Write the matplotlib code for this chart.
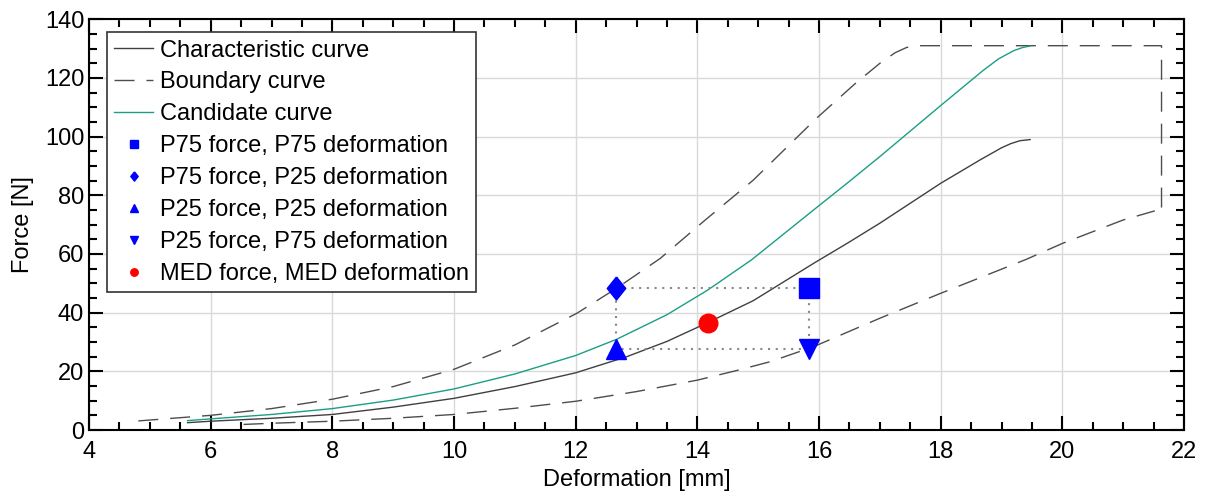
import matplotlib
matplotlib.use('Agg')
from matplotlib import pyplot as plt
from matplotlib.ticker import MultipleLocator

plt.rcParams['font.family'] = ['Liberation Sans', 'DejaVu Sans']

# characteristic curve
char_x = [5.62, 6.0, 7.0, 8.0, 9.0, 10.0, 11.0, 12.0, 12.84, 13.5, 14.17,
          14.92, 15.91, 16.46, 17.0, 18.0, 18.65, 19.0, 19.15, 19.3, 19.47]
char_y = [2.5, 3.0, 4.0, 5.3, 7.8, 10.8, 14.8, 19.5, 25.0, 30.2, 36.6,
          44.1, 56.8, 63.6, 70.5, 84.1, 92.1, 96.2, 97.6, 98.6, 99.0]

# candidate curve
cand_x = [5.62, 6.0, 7.0, 8.0, 9.0, 10.0, 11.0, 12.0, 12.67, 13.5, 14.17,
          14.89, 15.91, 16.46, 17.0, 18.0, 18.35, 18.7, 18.95, 19.2, 19.35, 19.47]
cand_y = [3.2, 3.8, 5.3, 7.3, 10.2, 14.0, 19.1, 25.4, 30.9, 39.3, 47.7,
          58.0, 75.0, 84.1, 93.2, 110.6, 116.6, 122.6, 126.5, 129.3, 130.4, 130.9]

# boundary curve (upper part incl. plateau and right edge, lower part)
upper_x = [4.81, 6.0, 7.0, 8.0, 9.0, 10.0, 11.0, 12.02, 12.67, 13.39, 14.13,
           14.92, 15.96, 16.59, 17.0, 17.25, 17.44, 17.6, 21.63, 21.63]
upper_y = [3.1, 5.0, 7.3, 10.5, 14.8, 20.7, 29.0, 39.8, 48.3, 58.5, 71.6,
           85.2, 106.3, 118.0, 125.0, 128.6, 130.4, 131.0, 131.0, 75.5]
lower_x = [6.54, 7.0, 8.0, 9.0, 10.0, 11.0, 12.0, 13.0, 14.0, 14.65, 15.2,
           15.91, 17.0, 18.0, 19.41, 20.0, 21.0, 21.52]
lower_y = [1.9, 2.3, 3.0, 4.0, 5.3, 7.4, 9.8, 13.1, 17.0, 20.3, 23.3,
           28.4, 38.1, 46.6, 58.2, 63.6, 71.6, 74.7]

# percentile points
p25_def, p75_def, med_def = 12.67, 15.84, 14.17
p25_force, p75_force, med_force = 27.5, 48.4, 36.6

fig = plt.figure(figsize=(12.05, 5.01), dpi=100)
ax = fig.add_axes([0.0739, 0.1417, 0.9087, 0.8198])

ax.grid(True, which='major', color='#d9d9d9', linewidth=1.0)
ax.set_axisbelow(True)

ax.plot(char_x, char_y, color='#404040', linewidth=1.0, label='Characteristic curve')
ax.plot(upper_x, upper_y, color='#4d4d4d', linewidth=1.0,
        linestyle=(0, (14.4, 8.6)), label='Boundary curve')
ax.plot(lower_x, lower_y, color='#4d4d4d', linewidth=1.0, linestyle=(0, (14.4, 8.6)))
ax.plot(cand_x, cand_y, color='#1b9e85', linewidth=1.0, label='Candidate curve')

# dotted rectangle between percentile points
ax.plot([p25_def, p75_def, p75_def, p25_def, p25_def],
        [p75_force, p75_force, p25_force, p25_force, p75_force],
        color='#888888', linewidth=1.5, linestyle=(0, (1, 2.7)), zorder=2)

diamond = [(0, 1), (0.8, 0), (0, -1), (-0.8, 0), (0, 1)]
ax.plot(p75_def, p75_force, 's', color='#0000ff', markersize=14.4, linestyle='none',
        label='P75 force, P75 deformation')
ax.plot(p25_def, p75_force, marker=diamond, color='#0000ff', markersize=16.6,
        linestyle='none', label='P75 force, P25 deformation')
ax.plot(p25_def, p25_force, '^', color='#0000ff', markersize=14.4, linestyle='none',
        label='P25 force, P25 deformation')
ax.plot(p75_def, p25_force, 'v', color='#0000ff', markersize=14.4, linestyle='none',
        label='P25 force, P75 deformation')
ax.plot(med_def, med_force, 'o', color='#ff0000', markersize=13.4, linestyle='none',
        label='MED force, MED deformation')

ax.set_xlim(4, 22)
ax.set_ylim(0, 140)
ax.xaxis.set_major_locator(MultipleLocator(2))
ax.xaxis.set_minor_locator(MultipleLocator(0.5))
ax.yaxis.set_major_locator(MultipleLocator(20))
ax.yaxis.set_minor_locator(MultipleLocator(5))
ax.tick_params(which='both', direction='in', top=True, right=True, width=1.5,
               labelsize=17, colors='black')
ax.tick_params(which='major', length=10)
ax.tick_params(which='minor', length=5.5)
ax.tick_params(axis='x', pad=8)
for s in ax.spines.values():
    s.set_linewidth(1.5)

ax.set_xlabel('Deformation [mm]', fontsize=17, labelpad=4)
ax.set_ylabel('Force [N]', fontsize=17, labelpad=8)

leg = ax.legend(loc='upper left', bbox_to_anchor=(0.0165, 0.968), fontsize=17,
                markerscale=0.4, handlelength=1.65, handletextpad=0.3,
                labelspacing=0.42, borderpad=0.3, borderaxespad=0, fancybox=False,
                framealpha=1, edgecolor='#333333')
leg.get_frame().set_linewidth(1.2)

fig.savefig('out.png', dpi=100)
